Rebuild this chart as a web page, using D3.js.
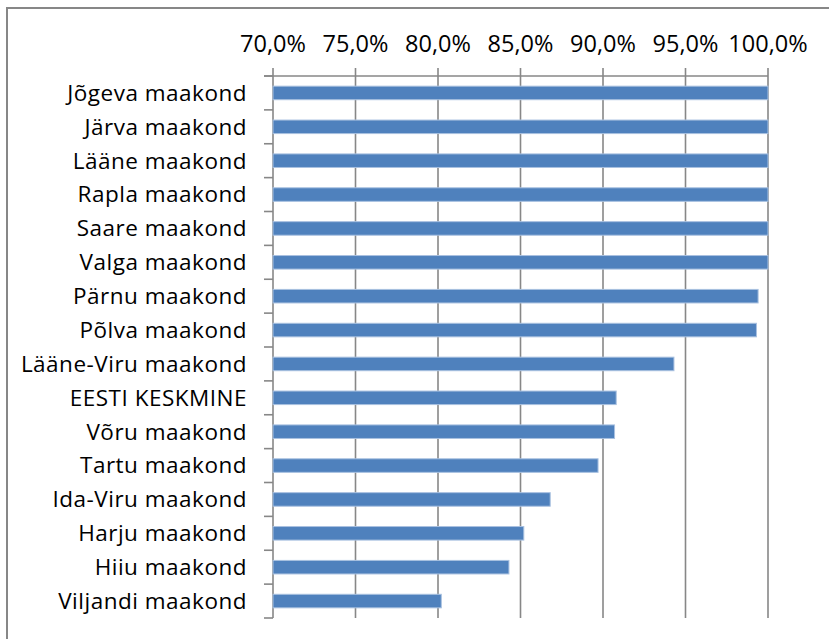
<!DOCTYPE html>
<html>
<head>
<meta charset="utf-8">
<script src="https://cdn.jsdelivr.net/npm/d3@7"></script>
<style>
  body { margin: 0; background: #fff; }
  svg { display: block; }
  text { font-family: "Open Sans", Lato, sans-serif; fill: #000; }
</style>
</head>
<body>
<svg id="chart" width="829" height="639"></svg>
<script>
// counties, top to bottom
const categories = [
  'Jõgeva maakond', 'Järva maakond', 'Lääne maakond', 'Rapla maakond',
  'Saare maakond', 'Valga maakond', 'Pärnu maakond', 'Põlva maakond',
  'Lääne-Viru maakond', 'EESTI KESKMINE', 'Võru maakond', 'Tartu maakond',
  'Ida-Viru maakond', 'Harju maakond', 'Hiiu maakond', 'Viljandi maakond'
];
// share in percent
const values = [100, 100, 100, 100, 100, 100, 99.4, 99.3, 94.3, 90.8, 90.7, 89.7, 86.8, 85.2, 84.3, 80.2];
const tickValues = [70, 75, 80, 85, 90, 95, 100];

const svg = d3.select('#chart');
const gridColor = '#878787';

// chart frame (right and bottom edge fall outside the picture)
svg.append('rect')
  .attr('x', 7).attr('y', 8)
  .attr('width', 900).attr('height', 700)
  .attr('fill', 'none')
  .attr('stroke', gridColor)
  .attr('stroke-width', 2);

const x = d3.scaleLinear().domain([70, 100]).range([273, 768]);
const y = d3.scaleBand().domain(categories).range([76, 618])
  .paddingInner(0.6).paddingOuter(0.3);

const plotTop = y.range()[0], plotBottom = y.range()[1];
const fmt = v => d3.format('.1f')(v).replace('.', ',') + '%';

// vertical gridlines with little ticks above the top line
svg.append('g').selectAll('line')
  .data(tickValues)
  .join('line')
  .attr('x1', d => x(d)).attr('x2', d => x(d))
  .attr('y1', plotTop - 8).attr('y2', plotBottom)
  .attr('stroke', gridColor)
  .attr('stroke-width', 1.6);

// top axis line
svg.append('line')
  .attr('x1', x(70) - 9).attr('x2', x(100))
  .attr('y1', plotTop).attr('y2', plotTop)
  .attr('stroke', gridColor)
  .attr('stroke-width', 1.6);

// category ticks on the left
const step = y.step();
svg.append('g').selectAll('line')
  .data(d3.range(categories.length + 1))
  .join('line')
  .attr('x1', x(70) - 9).attr('x2', x(70))
  .attr('y1', i => plotTop + i * step).attr('y2', i => plotTop + i * step)
  .attr('stroke', gridColor)
  .attr('stroke-width', 1.6);

// tick labels
svg.append('g').selectAll('text')
  .data(tickValues)
  .join('text')
  .attr('x', d => x(d))
  .attr('y', 52)
  .attr('text-anchor', 'middle')
  .attr('font-size', 23.5)
  .text(fmt);

// bars
svg.append('g').selectAll('rect')
  .data(values)
  .join('rect')
  .attr('x', x(70))
  .attr('y', (d, i) => y(categories[i]))
  .attr('width', d => x(d) - x(70))
  .attr('height', y.bandwidth())
  .attr('fill', '#4F81BD')
  .attr('stroke', '#A9C1E0')
  .attr('stroke-width', 1);

// category labels
svg.append('g').selectAll('text')
  .data(categories)
  .join('text')
  .attr('x', 247)
  .attr('y', d => y(d) + y.bandwidth() / 2)
  .attr('dy', '0.35em')
  .attr('text-anchor', 'end')
  .attr('font-size', 22.5)
  .attr('letter-spacing', 0.5)
  .text(d => d);
</script>
</body>
</html>
